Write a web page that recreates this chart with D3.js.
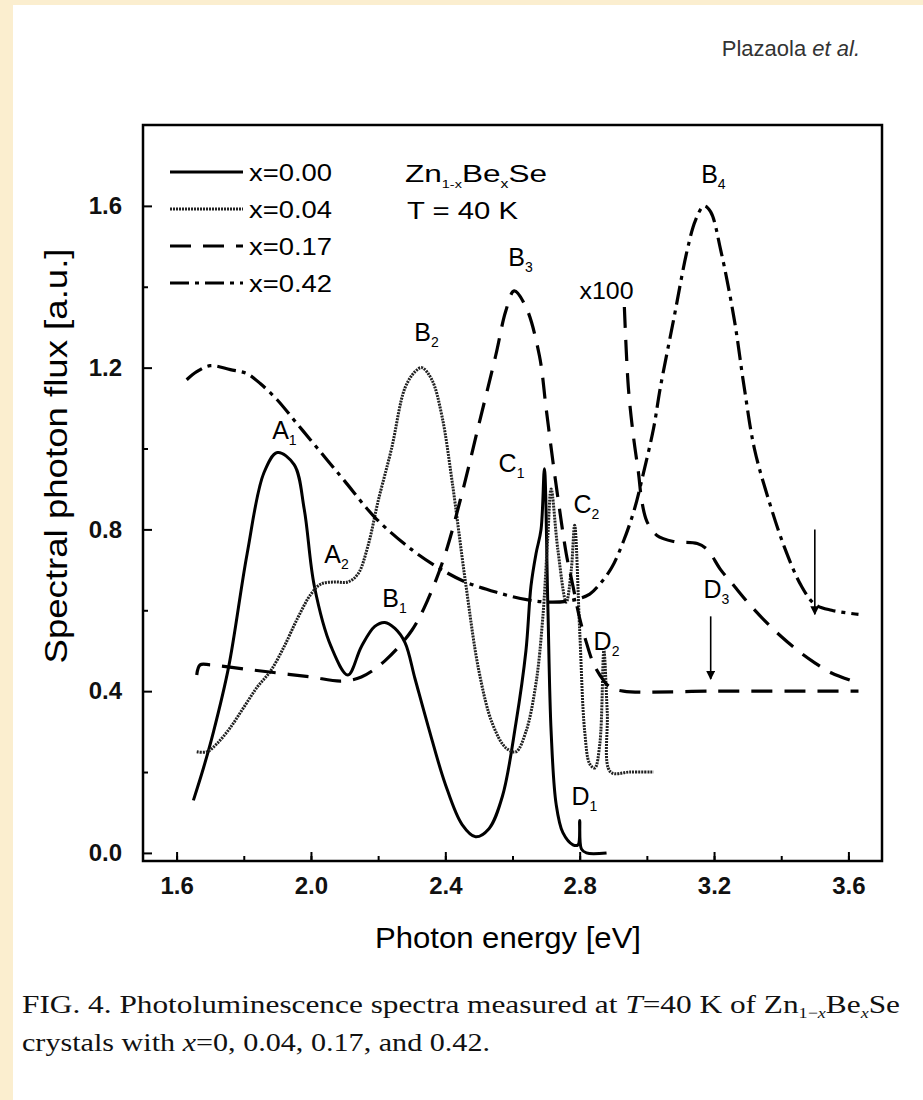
<!DOCTYPE html>
<html>
<head>
<meta charset="utf-8">
<script src="https://cdn.jsdelivr.net/npm/d3@7"></script>
<style>
  body { margin: 0; background: #fff; }
  svg { display: block; font-family: "Liberation Sans", Arial, sans-serif; }
</style>
</head>
<body>
<svg id="fig" width="923" height="1100"></svg>
<script>
// spectra: photon energy [eV] and flux [a.u.]
const e000 = [1.65, 1.68, 1.71, 1.755, 1.81, 1.86, 1.90, 1.95, 1.98, 2.01, 2.06, 2.11, 2.15, 2.19, 2.22, 2.25, 2.28, 2.31, 2.35, 2.40, 2.45, 2.49, 2.53, 2.57, 2.61, 2.64, 2.655, 2.67, 2.685, 2.695, 2.705, 2.715, 2.73, 2.75, 2.78, 2.795, 2.80, 2.805, 2.82, 2.88];
const f000 = [0.13, 0.21, 0.30, 0.46, 0.74, 0.94, 0.99, 0.96, 0.85, 0.66, 0.51, 0.44, 0.51, 0.56, 0.57, 0.555, 0.52, 0.43, 0.31, 0.17, 0.07, 0.04, 0.06, 0.14, 0.32, 0.50, 0.66, 0.74, 0.80, 0.95, 0.62, 0.30, 0.12, 0.05, 0.02, 0.02, 0.08, 0.01, 0.0, 0.0];

const e004 = [1.66, 1.69, 1.72, 1.76, 1.80, 1.84, 1.88, 1.92, 1.96, 2.00, 2.03, 2.07, 2.11, 2.14, 2.17, 2.20, 2.24, 2.28, 2.31, 2.33, 2.36, 2.39, 2.42, 2.46, 2.50, 2.54, 2.58, 2.61, 2.64, 2.67, 2.69, 2.705, 2.715, 2.735, 2.76, 2.775, 2.785, 2.80, 2.815, 2.83, 2.845, 2.86, 2.872, 2.882, 2.892, 2.95, 3.02];
const f004 = [0.25, 0.25, 0.27, 0.31, 0.36, 0.41, 0.45, 0.51, 0.58, 0.64, 0.665, 0.67, 0.67, 0.69, 0.76, 0.87, 1.00, 1.15, 1.19, 1.20, 1.17, 1.08, 0.92, 0.67, 0.45, 0.32, 0.26, 0.25, 0.30, 0.42, 0.58, 0.78, 0.90, 0.75, 0.62, 0.70, 0.81, 0.55, 0.30, 0.22, 0.21, 0.27, 0.50, 0.35, 0.20, 0.20, 0.20];

const e017 = [1.66, 1.67, 1.70, 1.80, 1.90, 2.00, 2.09, 2.15, 2.22, 2.30, 2.35, 2.40, 2.45, 2.50, 2.55, 2.58, 2.605, 2.64, 2.68, 2.70, 2.72, 2.74, 2.76, 2.78, 2.80, 2.82, 2.84, 2.86, 2.89, 2.93, 3.20, 3.63];
const f017 = [0.44, 0.465, 0.465, 0.455, 0.445, 0.435, 0.425, 0.435, 0.475, 0.55, 0.63, 0.74, 0.89, 1.06, 1.23, 1.34, 1.39, 1.35, 1.23, 1.10, 0.97, 0.85, 0.74, 0.66, 0.58, 0.52, 0.47, 0.44, 0.41, 0.40, 0.40, 0.40];

// x=0.17 tail magnified x100
const e017x100 = [2.933, 2.945, 2.96, 2.975, 2.985, 3.00, 3.03, 3.08, 3.15, 3.18, 3.22, 3.26, 3.30, 3.35, 3.40, 3.45, 3.50, 3.55, 3.63];
const f017x100 = [1.35, 1.15, 1.03, 0.94, 0.87, 0.82, 0.785, 0.77, 0.765, 0.75, 0.70, 0.66, 0.62, 0.575, 0.535, 0.50, 0.47, 0.445, 0.42];

const e042 = [1.63, 1.66, 1.70, 1.76, 1.81, 1.85, 1.90, 1.95, 2.00, 2.05, 2.10, 2.19, 2.30, 2.39, 2.46, 2.55, 2.65, 2.72, 2.78, 2.83, 2.86, 2.895, 2.93, 2.963, 2.99, 3.02, 3.04, 3.08, 3.12, 3.145, 3.17, 3.19, 3.22, 3.26, 3.29, 3.32, 3.36, 3.41, 3.46, 3.50, 3.55, 3.63];
const f042 = [1.17, 1.19, 1.205, 1.195, 1.185, 1.16, 1.12, 1.07, 1.02, 0.97, 0.92, 0.83, 0.75, 0.70, 0.67, 0.645, 0.625, 0.62, 0.625, 0.64, 0.665, 0.705, 0.77, 0.85, 0.94, 1.05, 1.15, 1.32, 1.49, 1.565, 1.60, 1.585, 1.49, 1.32, 1.15, 1.00, 0.88, 0.755, 0.66, 0.615, 0.60, 0.59];

const legendNames = ["x=0.00", "x=0.04", "x=0.17", "x=0.42"];

// peak labels: letter, index, energy, flux
const peakLetters = ["A", "A", "B", "B", "B", "B", "C", "C", "D", "D", "D"];
const peakIdx     = ["1", "2", "1", "2", "3", "4", "1", "2", "1", "2", "3"];
const peakE       = [1.921, 2.076, 2.249, 2.344, 2.624, 3.198, 2.597, 2.82, 2.814, 2.88, 3.207];
const peakF       = [1.045, 0.74, 0.63, 1.287, 1.473, 1.68, 0.963, 0.864, 0.141, 0.525, 0.653];

// arrows marking the D peaks
const arrowE = [3.19, 3.50];
const arrowFrom = [0.585, 0.80];
const arrowTo = [0.43, 0.59];

const xTicks = [1.6, 2.0, 2.4, 2.8, 3.2, 3.6];
const yTicks = [0.0, 0.4, 0.8, 1.2, 1.6];

const svg = d3.select("#fig");

// page background with the cream edge
svg.append("rect").attr("width", 923).attr("height", 1100).attr("fill", "#fff");
svg.append("rect").attr("width", 13).attr("height", 1100).attr("fill", "#fbeecf");
svg.append("rect").attr("width", 923).attr("height", 5).attr("fill", "#fbeecf");

const pLeft = 143, pRight = 882, pTop = 125, pBottom = 861;
const x = d3.scaleLinear().domain([1.5, 3.7]).range([pLeft, pRight]);
const y = d3.scaleLinear().domain([-0.02, 1.8]).range([pBottom, pTop]);

// axes: ticks point inward
svg.append("g").attr("transform", `translate(0,${pBottom})`)
  .call(d3.axisBottom(x).tickValues(xTicks).tickFormat(d3.format(".1f"))
    .tickSize(-9).tickSizeOuter(0).tickPadding(16));
svg.append("g").attr("transform", `translate(0,${pBottom})`)
  .call(d3.axisBottom(x).tickValues(d3.range(1.6, 3.61, 0.2)).tickFormat("")
    .tickSize(-5).tickSizeOuter(0));
svg.append("g").attr("transform", `translate(${pLeft},0)`)
  .call(d3.axisLeft(y).tickValues(yTicks).tickFormat(d3.format(".1f"))
    .tickSize(-9).tickSizeOuter(0).tickPadding(21));
svg.append("g").attr("transform", `translate(${pLeft},0)`)
  .call(d3.axisLeft(y).tickValues(d3.range(0.2, 1.61, 0.4)).tickFormat("")
    .tickSize(-5).tickSizeOuter(0));

svg.selectAll(".domain").remove();
svg.selectAll(".tick line").attr("stroke", "#000").attr("stroke-width", 2);
svg.selectAll(".tick text").attr("font-size", 24).attr("font-weight", "bold")
  .attr("fill", "#111");

svg.append("rect")
  .attr("x", pLeft).attr("y", pTop)
  .attr("width", pRight - pLeft).attr("height", pBottom - pTop)
  .attr("fill", "none").attr("stroke", "#000").attr("stroke-width", 2.5);

// axis titles
svg.append("text")
  .attr("x", 508).attr("y", 948)
  .attr("text-anchor", "middle").attr("font-size", 30)
  .attr("textLength", 266).attr("lengthAdjust", "spacingAndGlyphs")
  .text("Photon energy [eV]");
svg.append("text")
  .attr("transform", "translate(67,456) rotate(-90)")
  .attr("text-anchor", "middle").attr("font-size", 31)
  .attr("textLength", 415).attr("lengthAdjust", "spacingAndGlyphs")
  .text("Spectral photon flux [a.u.]");

// curves
const line = d3.line()
  .x(d => x(d[0])).y(d => y(d[1]))
  .curve(d3.curveCatmullRom.alpha(0.5));

const styles = [
  { dash: null, w: 3, c: "#000" },
  { dash: "2,1", w: 3, c: "#222" },
  { dash: "21,12", w: 3.2, c: "#000" },
  { dash: "19,6,4,6", w: 3.2, c: "#000" }
];

const series = [
  [d3.zip(e000, f000), 0],
  [d3.zip(e004, f004), 1],
  [d3.zip(e017, f017), 2],
  [d3.zip(e017x100, f017x100), 2],
  [d3.zip(e042, f042), 3]
];

series.forEach(([pts, s]) => {
  svg.append("path")
    .attr("d", line(pts))
    .attr("fill", "none")
    .attr("stroke", styles[s].c)
    .attr("stroke-width", styles[s].w)
    .attr("stroke-dasharray", styles[s].dash)
    .attr("stroke-linejoin", "round");
});

// arrows
svg.append("defs").append("marker")
  .attr("id", "head").attr("viewBox", "0 0 10 10")
  .attr("refX", 9).attr("refY", 5)
  .attr("markerWidth", 9).attr("markerHeight", 9)
  .attr("markerUnits", "userSpaceOnUse")
  .attr("orient", "auto")
  .append("path").attr("d", "M0,0 L10,5 L0,10 Z").attr("fill", "#000");

arrowE.forEach((e, i) => {
  svg.append("line")
    .attr("x1", x(e)).attr("x2", x(e))
    .attr("y1", y(arrowFrom[i])).attr("y2", y(arrowTo[i]))
    .attr("stroke", "#000").attr("stroke-width", 1.6)
    .attr("marker-end", "url(#head)");
});

// peak labels
peakLetters.forEach((l, i) => {
  const t = svg.append("text")
    .attr("x", x(peakE[i])).attr("y", y(peakF[i]) + 9)
    .attr("text-anchor", "middle").attr("font-size", 25).attr("fill", "#000");
  t.append("tspan").text(l);
  t.append("tspan").attr("dy", 6).attr("font-size", 14).text(peakIdx[i]);
});

svg.append("text")
  .attr("x", x(2.88)).attr("y", y(1.39) + 8)
  .attr("text-anchor", "middle").attr("font-size", 23)
  .attr("textLength", 54).attr("lengthAdjust", "spacingAndGlyphs")
  .text("x100");

// legend
legendNames.forEach((name, i) => {
  const ly = 172 + i * 37;
  svg.append("line")
    .attr("x1", 170).attr("x2", 243).attr("y1", ly).attr("y2", ly)
    .attr("stroke", styles[i].c).attr("stroke-width", styles[i].w)
    .attr("stroke-dasharray", styles[i].dash);
  svg.append("text")
    .attr("x", 249).attr("y", ly + 9).attr("font-size", 24)
    .attr("textLength", 83).attr("lengthAdjust", "spacingAndGlyphs")
    .text(name);
});

const comp = svg.append("text").attr("x", 405).attr("y", 182).attr("font-size", 24)
  .attr("textLength", 142).attr("lengthAdjust", "spacingAndGlyphs");
comp.append("tspan").text("Zn");
comp.append("tspan").attr("dy", 6).attr("font-size", 11).text("1-x");
comp.append("tspan").attr("dy", -6).text("Be");
comp.append("tspan").attr("dy", 6).attr("font-size", 12).text("x");
comp.append("tspan").attr("dy", -6).text("Se");
svg.append("text").attr("x", 407).attr("y", 219).attr("font-size", 24)
  .attr("textLength", 111).attr("lengthAdjust", "spacingAndGlyphs")
  .text("T = 40 K");

// header and caption
const hdr = svg.append("text").attr("x", 860).attr("y", 56)
  .attr("text-anchor", "end").attr("font-size", 22).attr("fill", "#333");
hdr.append("tspan").text("Plazaola ");
hdr.append("tspan").attr("font-style", "italic").text("et al.");

const cap = svg.append("g").attr("font-family", "'Liberation Serif', 'Times New Roman', serif")
  .attr("font-size", 26).attr("fill", "#111");
const c1 = cap.append("text").attr("x", 22).attr("y", 1013)
  .attr("textLength", 878).attr("lengthAdjust", "spacingAndGlyphs");
c1.append("tspan").text("FIG. 4. Photoluminescence spectra measured at ");
c1.append("tspan").attr("font-style", "italic").text("T");
c1.append("tspan").text("=40 K of Zn");
c1.append("tspan").attr("dy", 5).attr("font-size", 15).text("1\u2212");
c1.append("tspan").attr("font-size", 15).attr("font-style", "italic").text("x");
c1.append("tspan").attr("dy", -5).text("Be");
c1.append("tspan").attr("dy", 5).attr("font-size", 15).attr("font-style", "italic").text("x");
c1.append("tspan").attr("dy", -5).text("Se");
const c2 = cap.append("text").attr("x", 22).attr("y", 1051)
  .attr("textLength", 468).attr("lengthAdjust", "spacingAndGlyphs");
c2.append("tspan").text("crystals with ");
c2.append("tspan").attr("font-style", "italic").text("x");
c2.append("tspan").text("=0, 0.04, 0.17, and 0.42.");
</script>
</body>
</html>
